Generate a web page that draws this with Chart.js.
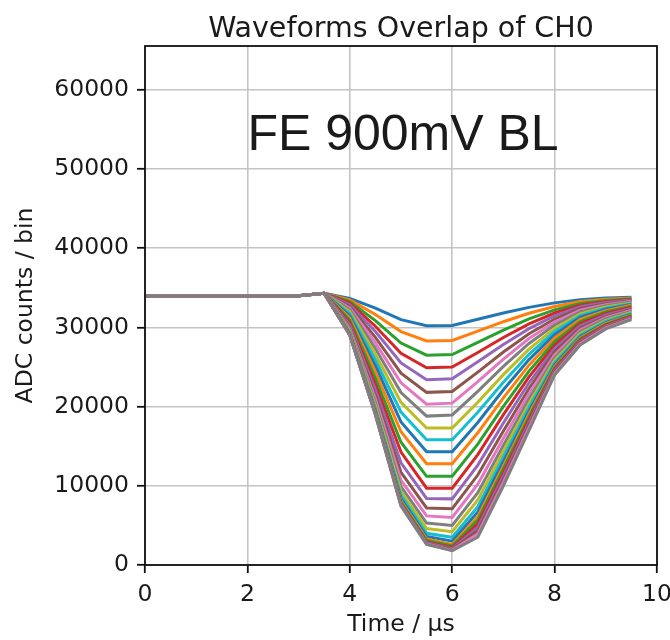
<!DOCTYPE html>
<html>
<head>
<meta charset="utf-8">
<title>Waveforms Overlap of CH0</title>
<script src="https://cdn.jsdelivr.net/npm/chart.js@4.4.0/dist/chart.umd.min.js"></script>
<style>
  html, body { margin: 0; padding: 0; background: #fff; }
  canvas { display: block; }
</style>
</head>
<body>
<canvas id="chart" width="670" height="640"></canvas>
<script>
// sample times in us (0.5 us per ADC sample)
const times = [0, 0.5, 1, 1.5, 2, 2.5, 3, 3.5, 4, 4.5, 5, 5.5, 6, 6.5, 7, 7.5, 8, 8.5, 9, 9.5];

// flat baseline before the pulse, 0.0 - 3.0 us
const baseline = [34000, 34000, 34000, 34000, 34000, 34000, 34000];

// pulse part of every waveform, 3.5 - 9.5 us
const waveforms = [
  [34300, 33660, 32440, 30980, 30200, 30240, 31030, 31820, 32530, 33100, 33510, 33700, 33810],
  [34300, 33460, 31640, 29470, 28300, 28360, 29540, 30720, 31790, 32640, 33260, 33550, 33720],
  [34300, 33260, 30860, 28020, 26500, 26580, 28120, 29670, 31090, 32210, 33030, 33400, 33620],
  [34300, 33070, 30150, 26730, 24900, 24990, 26840, 28730, 30450, 31820, 32810, 33270, 33540],
  [34300, 32870, 29480, 25520, 23400, 23510, 25650, 27850, 29850, 31450, 32610, 33140, 33460],
  [34300, 32650, 28750, 24220, 21800, 21920, 24360, 26890, 29210, 31060, 32390, 33000, 33370],
  [34300, 32430, 28050, 23000, 20300, 20440, 23160, 26000, 28600, 30690, 32190, 32870, 33290],
  [34300, 32210, 27340, 21770, 18800, 18950, 21920, 25070, 27970, 30300, 31970, 32740, 33200],
  [34300, 31970, 26620, 20540, 17300, 17300, 20550, 24040, 27260, 29870, 31720, 32580, 33090],
  [34300, 31720, 25890, 19310, 15800, 15800, 19280, 23080, 26600, 29480, 31500, 32430, 33000],
  [34300, 31450, 25150, 18070, 14300, 14300, 18000, 22120, 25940, 29080, 31270, 32290, 32900],
  [34300, 31180, 24400, 16830, 12800, 12800, 16690, 21110, 25230, 28660, 31020, 32120, 32790],
  [34300, 30880, 23580, 15500, 11200, 11200, 15270, 20020, 24480, 28200, 30750, 31950, 32660],
  [34300, 30580, 22800, 14250, 9700, 9700, 13930, 18980, 23750, 27770, 30490, 31780, 32540],
  [34300, 30310, 22120, 12900, 8400, 8350, 12610, 17940, 23010, 27330, 30210, 31590, 32410],
  [34300, 30060, 21480, 11700, 7200, 7100, 11360, 16930, 22290, 26920, 29940, 31400, 32270],
  [34300, 29840, 20950, 10700, 6200, 6000, 10210, 16000, 21610, 26520, 29690, 31230, 32140],
  [34300, 29640, 20460, 9900, 5300, 5000, 9130, 15120, 20970, 26160, 29440, 31060, 32010],
  [34300, 29490, 20080, 9300, 4600, 4200, 8210, 14360, 20400, 25830, 29230, 30900, 31900],
  [34300, 29350, 19750, 8800, 4000, 3500, 7370, 13640, 19880, 25530, 29020, 30750, 31780],
  [34300, 29260, 19530, 8400, 3600, 3000, 6690, 13050, 19430, 25280, 28840, 30620, 31680],
  [34300, 29190, 19360, 8100, 3300, 2600, 6090, 12520, 19030, 25060, 28670, 30500, 31580],
  [34300, 29140, 19250, 7900, 3100, 2400, 5660, 12130, 18710, 24890, 28540, 30400, 31500],
  [34300, 29090, 19140, 7750, 2900, 2200, 5180, 11670, 18350, 24700, 28380, 30280, 31400],
  [34300, 29070, 19090, 7650, 2800, 2050, 4750, 11250, 18010, 24520, 28240, 30170, 31300],
  [34300, 29050, 19030, 7550, 2700, 1950, 4350, 10860, 17700, 24350, 28100, 30060, 31210],
  [34300, 29030, 19000, 7500, 2650, 1850, 3910, 10420, 17340, 24160, 27940, 29930, 31110],
  [34300, 29020, 18980, 7450, 2600, 1800, 3510, 10010, 17000, 24000, 27790, 29810, 31000]
];

const xTicks = [0, 2, 4, 6, 8, 10];
const yTicks = [0, 10000, 20000, 30000, 40000, 50000, 60000];

// matplotlib tab10 cycle
const colors = ['#1f77b4', '#ff7f0e', '#2ca02c', '#d62728', '#9467bd',
                '#8c564b', '#e377c2', '#7f7f7f', '#bcbd22', '#17becf'];

const datasets = waveforms.map((pulse, i) => {
  const values = baseline.concat(pulse);
  return {
    data: times.map((t, j) => ({ x: t, y: values[j] })),
    borderColor: colors[i % colors.length],
    borderWidth: 3,
    pointRadius: 0,
    tension: 0,
    fill: false,
    // last waveform ends up on top, like matplotlib
    order: waveforms.length - i
  };
});

const tickFont = { family: 'DejaVu Sans', size: 23.5 };
const textColor = '#1a1a1a';

// frame, title and the text label inside the axes
const decorations = {
  id: 'decorations',
  afterDraw(chart) {
    const { ctx, chartArea } = chart;
    const xs = chart.scales.x;
    const ys = chart.scales.y;
    ctx.save();
    ctx.strokeStyle = '#111';
    ctx.lineWidth = 1.8;
    ctx.strokeRect(chartArea.left, chartArea.top,
      chartArea.right - chartArea.left, chartArea.bottom - chartArea.top);

    ctx.fillStyle = textColor;
    ctx.textAlign = 'center';
    ctx.textBaseline = 'alphabetic';
    ctx.font = '28.5px "DejaVu Sans"';
    ctx.fillText('Waveforms Overlap of CH0', (chartArea.left + chartArea.right) / 2, 37);

    ctx.textAlign = 'left';
    ctx.font = '50px "Liberation Sans"';
    ctx.fillText('FE 900mV BL', xs.getPixelForValue(2), ys.getPixelForValue(52400));
    ctx.restore();
  }
};

new Chart(document.getElementById('chart'), {
  type: 'line',
  data: { datasets },
  options: {
    responsive: false,
    animation: false,
    events: [],
    layout: { padding: { left: 0, right: 13, top: 46, bottom: 0 } },
    plugins: {
      legend: { display: false },
      tooltip: { enabled: false }
    },
    scales: {
      x: {
        type: 'linear',
        min: 0,
        max: 10,
        afterBuildTicks: (scale) => { scale.ticks = xTicks.map(v => ({ value: v })); },
        afterFit: (scale) => {
          scale.height = 75;
          scale.paddingLeft = 0;
          scale.paddingRight = 0;
        },
        ticks: { font: tickFont, color: textColor, padding: 8, maxRotation: 0,
                 callback: (v) => String(v) },
        grid: { color: '#c4c4c4', lineWidth: 1.6, tickLength: 8, tickColor: '#111', tickWidth: 1.8 },
        border: { display: false },
        title: {
          display: true,
          text: 'Time / μs',
          font: tickFont,
          color: textColor,
          padding: { top: 0, bottom: 1 }
        }
      },
      y: {
        type: 'linear',
        min: 0,
        max: 65535,
        afterBuildTicks: (scale) => { scale.ticks = yTicks.map(v => ({ value: v })); },
        afterFit: (scale) => {
          scale.width = 145;
          scale.paddingTop = 0;
          scale.paddingBottom = 0;
        },
        ticks: { font: tickFont, color: textColor, padding: 8,
                 callback: (v) => String(v) },
        grid: { color: '#c4c4c4', lineWidth: 1.6, tickLength: 8, tickColor: '#111', tickWidth: 1.8 },
        border: { display: false },
        title: {
          display: true,
          text: 'ADC counts / bin',
          font: tickFont,
          color: textColor,
          padding: { top: 12, bottom: 0 }
        }
      }
    }
  },
  plugins: [decorations]
});
</script>
</body>
</html>
